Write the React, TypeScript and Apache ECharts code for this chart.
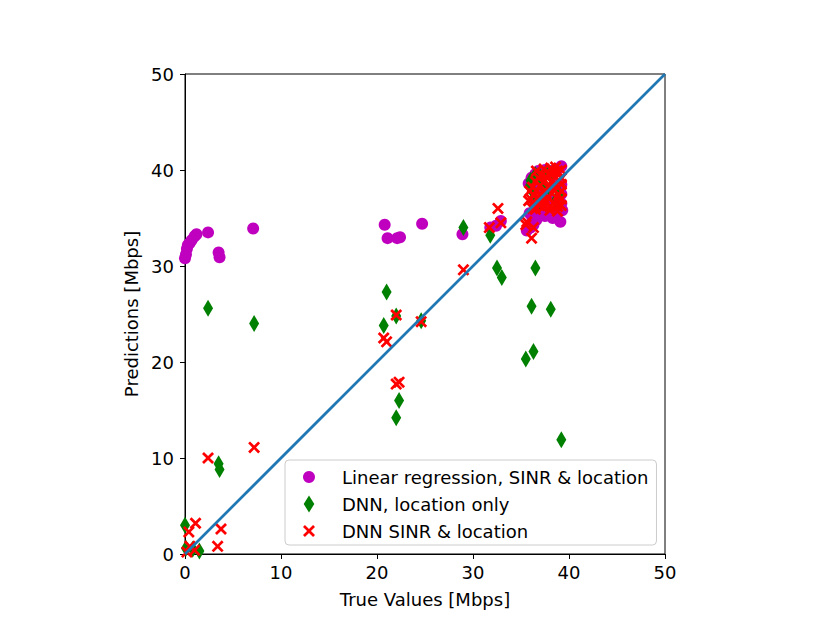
import React, { useEffect, useRef } from "react";
import * as echarts from "echarts";

// [true value, prediction] pairs
const linearRegression: [number, number][] = [
  [0.0, 30.8], [0.1, 31.2], [0.2, 31.8], [0.3, 32.2], [0.5, 32.4], [0.7, 32.7], [1.0, 33.1], [1.2, 33.3],
  [2.4, 33.5], [3.5, 31.4], [3.6, 30.9], [7.1, 33.9],
  [20.8, 34.3], [21.1, 32.9], [22.1, 32.9], [22.4, 33.0], [24.7, 34.4], [28.9, 33.3],
  [31.8, 34.0], [32.4, 34.2], [32.9, 34.7], [35.6, 33.7],
  [36.1, 39.2], [36.5, 39.6], [36.8, 39.9], [37.5, 40.0], [38.2, 39.9], [38.8, 40.1], [39.2, 40.4],
  [36.0, 38.5], [35.8, 38.6], [36.0, 34.0], [36.3, 34.3], [36.6, 34.8], [37.0, 35.3], [37.5, 35.2],
  [37.8, 35.5], [38.3, 35.0], [38.6, 35.6], [39.1, 34.6], [39.3, 35.8], [39.2, 36.5], [39.2, 37.5],
  [39.2, 38.5], [37.2, 36.0], [36.5, 36.5], [38.0, 37.0], [37.0, 38.0], [38.5, 38.5], [36.8, 35.8],
  [35.9, 35.5], [36.2, 35.0],
];

const dnnLocation: [number, number][] = [
  [0.0, 3.0], [0.1, 0.6], [0.8, 0.5], [1.5, 0.3],
  [2.4, 25.6], [3.5, 9.4], [3.6, 8.8], [7.2, 24.0],
  [20.7, 23.8], [21.0, 27.3], [22.0, 24.8], [22.0, 14.2], [22.3, 16.0], [24.6, 24.3],
  [29.0, 34.0], [31.8, 33.2], [32.5, 29.8], [33.0, 28.8],
  [36.5, 29.8], [36.1, 25.8], [38.1, 25.5], [36.3, 21.1], [35.5, 20.3], [39.2, 11.9],
  [36.0, 38.9], [35.9, 38.3], [36.5, 39.5], [37.0, 39.3], [37.6, 39.7], [38.1, 39.6],
  [36.3, 37.0], [37.3, 38.3], [38.0, 38.0], [36.8, 36.5], [38.6, 36.8], [36.2, 37.8], [39.0, 37.5],
];

const dnnSinrLocation: [number, number][] = [
  [0.2, 0.2], [0.5, 0.8], [1.0, 0.4], [0.4, 2.3], [1.1, 3.2], [3.75, 2.6], [3.4, 0.8],
  [2.4, 10.0], [7.2, 11.1],
  [20.7, 22.5], [21.0, 22.1], [22.0, 24.9], [22.0, 17.7], [22.3, 17.9], [24.6, 24.2],
  [29.0, 29.6], [31.7, 34.0], [32.9, 34.5], [32.6, 36.0],
  [35.5, 34.3], [35.6, 34.6], [36.3, 34.0], [36.1, 32.9], [38.0, 35.8],
  [36.0, 37.0], [36.2, 38.2], [36.5, 38.8], [36.8, 39.2], [37.2, 39.5], [37.6, 39.3], [38.0, 39.6],
  [38.4, 39.8], [38.8, 39.9], [39.2, 40.0], [39.2, 39.2], [39.2, 38.5], [39.2, 37.8], [39.2, 37.0],
  [39.2, 36.3], [38.8, 36.2], [38.4, 36.6], [38.0, 36.2], [37.6, 36.7], [37.2, 36.8], [36.8, 37.2],
  [36.4, 36.3], [36.6, 37.8], [37.0, 38.4], [37.4, 37.6], [37.8, 38.2], [38.2, 37.6], [38.6, 38.4],
  [38.9, 37.4], [38.3, 38.9], [37.5, 38.9], [36.9, 36.3], [35.9, 37.8], [35.8, 36.8], [36.2, 36.0],
  [36.6, 39.9], [37.4, 40.1], [38.1, 40.2], [38.6, 40.3], [36.3, 37.4], [37.0, 37.5], [37.8, 37.1],
  [38.5, 37.9], [39.0, 38.9], [36.5, 35.9], [37.4, 36.2], [38.8, 35.7],
];

const identityLine: [number, number][] = [[0, 0], [50, 50]];
const axisTicks = [0, 10, 20, 30, 40, 50];

const seriesNames = [
  "Linear regression, SINR & location",
  "DNN, location only",
  "DNN SINR & location",
];

const DIAMOND = "path://M5,0L10,8L5,16L0,8Z";
const CROSS =
  "path://M0,1.6L1.6,0L5,3.4L8.4,0L10,1.6L6.6,5L10,8.4L8.4,10L5,6.6L1.6,10L0,8.4L3.4,5Z";
const FONT = "DejaVu Sans";

export default function App() {
  const ref = useRef<HTMLDivElement>(null);
  useEffect(() => {
    if (!ref.current) return;
    const chart = echarts.init(ref.current, null, { renderer: "svg" });
    const axisCommon = {
      type: "value",
      min: axisTicks[0],
      max: axisTicks[axisTicks.length - 1],
      interval: 10,
      splitLine: { show: false },
      axisLine: { show: true, lineStyle: { color: "#000", width: 1 } },
      axisTick: { show: true, inside: false, length: 5, lineStyle: { color: "#000", width: 1 } },
      axisLabel: { color: "#000", fontSize: 18, fontFamily: FONT },
      nameLocation: "middle",
      nameTextStyle: { color: "#000", fontSize: 18, fontFamily: FONT },
    };
    chart.setOption({
      animation: false,
      backgroundColor: "#fff",
      grid: {
        left: 185,
        top: 74,
        width: 480,
        height: 480,
        show: true,
        borderColor: "#000",
        borderWidth: 1,
        backgroundColor: "transparent",
      },
      xAxis: {
        ...axisCommon,
        name: "True Values [Mbps]",
        nameGap: 36,
        axisLabel: { ...axisCommon.axisLabel, margin: 9 },
      },
      yAxis: {
        ...axisCommon,
        name: "Predictions [Mbps]",
        nameGap: 40,
        axisLabel: { ...axisCommon.axisLabel, margin: 11 },
      },
      legend: {
        orient: "vertical",
        left: 285,
        top: 460,
        padding: [8, 8, 5, 18],
        itemWidth: 12,
        itemHeight: 17,
        itemGap: 9,
        backgroundColor: "rgba(255,255,255,0.8)",
        borderColor: "#cccccc",
        borderWidth: 1,
        borderRadius: 4,
        textStyle: { color: "#000", fontSize: 18, fontFamily: FONT, padding: [0, 0, 0, 22] },
        data: [
          { name: seriesNames[0], icon: "circle" },
          { name: seriesNames[1], icon: DIAMOND },
          { name: seriesNames[2], icon: CROSS },
        ],
      },
      series: [
        {
          name: seriesNames[0],
          type: "scatter",
          data: linearRegression,
          symbol: "circle",
          symbolSize: 12,
          itemStyle: { color: "#bf00bf", opacity: 1 },
          z: 2,
        },
        {
          name: seriesNames[1],
          type: "scatter",
          data: dnnLocation,
          symbol: DIAMOND,
          symbolSize: [10, 17],
          itemStyle: { color: "#008000", opacity: 1 },
          z: 3,
        },
        {
          name: seriesNames[2],
          type: "scatter",
          data: dnnSinrLocation,
          symbol: CROSS,
          symbolSize: 12,
          itemStyle: { color: "#ff0000", opacity: 1 },
          z: 4,
        },
        {
          name: "identity",
          type: "line",
          data: identityLine,
          showSymbol: false,
          symbol: "none",
          lineStyle: { color: "#1f77b4", width: 2.7 },
          z: 5,
          silent: true,
        },
      ],
    });
    return () => chart.dispose();
  }, []);
  return (
    <div
      ref={ref}
      style={{ position: "fixed", left: 0, top: 0, width: 830, height: 623 }}
    />
  );
}
